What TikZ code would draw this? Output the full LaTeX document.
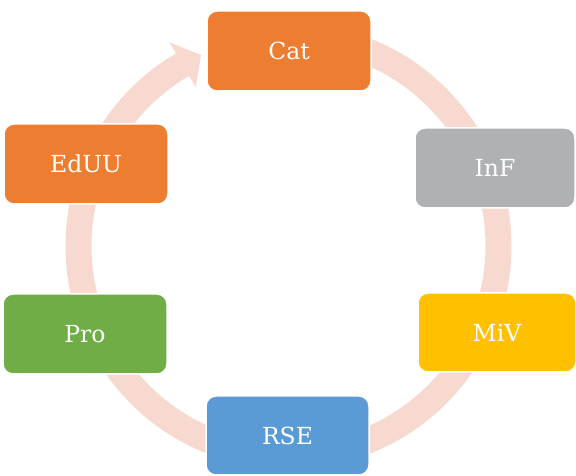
\documentclass[tikz,border=0pt]{standalone}
\usepackage{fontspec}
\setmainfont{DejaVu Serif}
\usetikzlibrary{calc}
\definecolor{cOrange}{RGB}{237,125,49}
\definecolor{cGray}{RGB}{176,177,180}
\definecolor{cYellow}{RGB}{255,192,0}
\definecolor{cBlue}{RGB}{91,155,213}
\definecolor{cGreen}{RGB}{112,173,71}
\definecolor{cRing}{RGB}{247,217,208}
\tikzset{
  stepbox/.style={rectangle, rounded corners=10pt, draw=white, line width=1.5pt,
    minimum width=163pt, minimum height=80pt, inner sep=0pt, text=white,
    font=\fontsize{23.5}{27}\selectfont},
  ring/.style={draw=cRing, line width=26pt},
  ringhead/.style={fill=cRing, draw=none}
}
\begin{document}
\begin{tikzpicture}[x=1pt,y=1pt]
\useasboundingbox (0,0) rectangle (576,476);
\coordinate (O) at (288.5,230);
% ring
\draw[ring] (O) ++(85:210) arc[start angle=85, end angle=-241, radius=210];
\path (O) ++(114.6:210) coordinate (tip);
\path (O) ++(120.3:236) coordinate (w1);
\path (O) ++(120.3:184) coordinate (w2);
\fill[ringhead] (w1) -- (tip) -- (w2) -- cycle;
% boxes
\node[stepbox, fill=cOrange, minimum width=164pt] (cat) at (289,425) {Cat};
\node[stepbox, fill=cGray, minimum width=160pt] (inf) at (495,308) {InF};
\node[stepbox, fill=cYellow, minimum width=158pt, minimum height=79pt] (miv) at (497,143.5) {MiV};
\node[stepbox, fill=cBlue, minimum height=79pt] (rse) at (287.5,40.5) {RSE};
\node[stepbox, fill=cGreen, minimum width=164pt] (pro) at (85,142) {Pro};
\node[stepbox, fill=cOrange, minimum width=164pt] (eduu) at (86,312) {EdUU};
\end{tikzpicture}
\end{document}
